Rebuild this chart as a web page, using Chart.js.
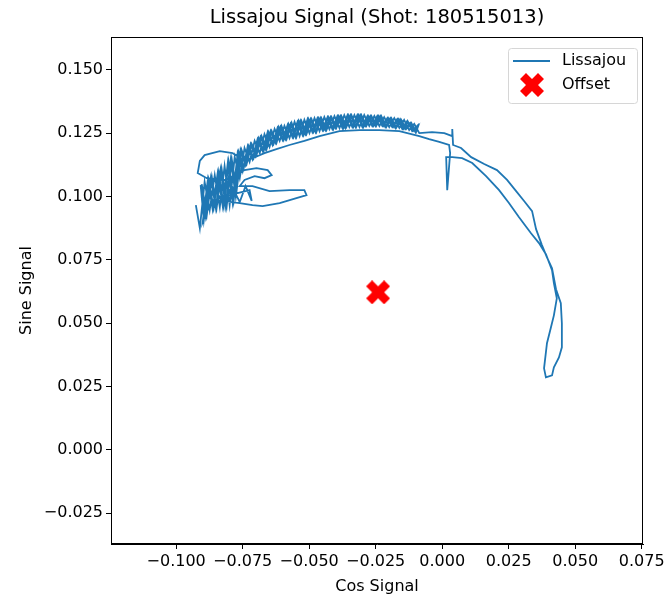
<!DOCTYPE html>
<html>
<head>
<meta charset="utf-8">
<script src="https://cdn.jsdelivr.net/npm/chart.js@4"></script>
<style>
  body { margin: 0; background: #fff; }
  #chart { display: block; }
</style>
</head>
<body>
<canvas id="chart" width="665" height="598"></canvas>
<script>
// --- Données ---
// passage 1 dans la bande épaisse (gauche -> droite)
const bandCos1 = [
  -0.0926,-0.0911,-0.0893,-0.0874,-0.0855,-0.0836,-0.0818,-0.0799,-0.0780,-0.0761,
  -0.0743,-0.0724,-0.0705,-0.0686,-0.0668,-0.0649,-0.0630,-0.0611,-0.0593,-0.0574,
  -0.0555,-0.0536,-0.0518,-0.0499,-0.0480,-0.0461,-0.0443,-0.0424,-0.0405,-0.0386,
  -0.0368,-0.0349,-0.0330,-0.0311,-0.0293,-0.0274,-0.0255,-0.0236,-0.0218,-0.0199,
  -0.0180,-0.0161,-0.0143,-0.0124,-0.0105,-0.0086
];
const bandSine1 = [
   0.0966, 0.0875, 0.1057, 0.0946, 0.1084, 0.0958, 0.1120, 0.0966, 0.1155, 0.1072,
   0.1191, 0.1136, 0.1219, 0.1171, 0.1246, 0.1195, 0.1266, 0.1219, 0.1278, 0.1230,
   0.1294, 0.1238, 0.1302, 0.1250, 0.1309, 0.1258, 0.1313, 0.1266, 0.1317, 0.1270,
   0.1321, 0.1274, 0.1321, 0.1274, 0.1321, 0.1278, 0.1317, 0.1278, 0.1313, 0.1274,
   0.1309, 0.1270, 0.1302, 0.1262, 0.1286, 0.1250
];
// arc de droite (aller puis retour), pics, ligne intérieure, boucles de gauche
const arcCos = [
  -0.0038, 0.0008, 0.0038, 0.0038, 0.0041, 0.0071, 0.0109, 0.0158, 0.0206, 0.0244,
   0.0278, 0.0308, 0.0338, 0.0353, 0.0375, 0.0394, 0.0413, 0.0428, 0.0446, 0.0450,
   0.0450, 0.0439, 0.0420, 0.0413, 0.0390, 0.0383, 0.0394, 0.0409, 0.0420, 0.0431,
   0.0420, 0.0413, 0.0390, 0.0364, 0.0334, 0.0289, 0.0251, 0.0214, 0.0165, 0.0113,
   0.0075, 0.0038, 0.0015, 0.0019, 0.0030, 0.0026,-0.0011,-0.0049,-0.0086,-0.0161,
  -0.0236,-0.0311,-0.0386,-0.0461,-0.0518,-0.0574,-0.0623,-0.0668,-0.0713,-0.0743,
  -0.0788,-0.0836,-0.0893,-0.0911,-0.0919,-0.0885,-0.0818,-0.0761,-0.0743,-0.0698,
  -0.0656,-0.0641,-0.0668,-0.0705,-0.0743,-0.0761,-0.0713,-0.0649,-0.0574,-0.0518,
  -0.0510,-0.0548,-0.0611,-0.0675,-0.0713,-0.0761,-0.0825,-0.0855,-0.0818,-0.0791,
  -0.0761,-0.0739,-0.0716,-0.0724,-0.0799,-0.0874,-0.0900
];
const arcSine = [
   0.1254, 0.1250, 0.1238, 0.1266, 0.1203, 0.1191, 0.1155, 0.1128, 0.1104, 0.1065,
   0.1021, 0.0982, 0.0942, 0.0871, 0.0808, 0.0760, 0.0717, 0.0634, 0.0579, 0.0500,
   0.0405, 0.0365, 0.0326, 0.0294, 0.0286, 0.0322, 0.0421, 0.0484, 0.0531, 0.0598,
   0.0658, 0.0709, 0.0772, 0.0816, 0.0855, 0.0918, 0.0974, 0.1025, 0.1080, 0.1132,
   0.1151, 0.1155, 0.1155, 0.1025, 0.1171, 0.1203, 0.1215, 0.1226, 0.1238, 0.1258,
   0.1262, 0.1262, 0.1258, 0.1238, 0.1219, 0.1203, 0.1187, 0.1171, 0.1151, 0.1144,
   0.1171, 0.1179, 0.1163, 0.1140, 0.1092, 0.1072, 0.1065, 0.1092, 0.1104, 0.1112,
   0.1104, 0.1084, 0.1072, 0.1080, 0.1065, 0.1041, 0.1041, 0.1021, 0.1025, 0.1025,
   0.1005, 0.0993, 0.0974, 0.0962, 0.0966, 0.0974, 0.0982, 0.1025, 0.0970, 0.1041,
   0.0978, 0.1041, 0.0982, 0.1025, 0.1005, 0.0966, 0.0899
];
// passage 2 dans la bande (gauche -> droite)
const bandCos2 = [
  -0.0881,-0.0863,-0.0844,-0.0825,-0.0806,-0.0788,-0.0769,-0.0750,-0.0731,-0.0713,
  -0.0694,-0.0675,-0.0656,-0.0638,-0.0619,-0.0600,-0.0581,-0.0563,-0.0544,-0.0525,
  -0.0506,-0.0488,-0.0469,-0.0450,-0.0431,-0.0413,-0.0394,-0.0375,-0.0356,-0.0338,
  -0.0319,-0.0300,-0.0281,-0.0263,-0.0244,-0.0225,-0.0206,-0.0188,-0.0169,-0.0150,
  -0.0131,-0.0113,-0.0094
];
const bandSine2 = [
   0.1065, 0.0950, 0.1092, 0.0962, 0.1132, 0.0978, 0.1171, 0.1100, 0.1199, 0.1147,
   0.1226, 0.1179, 0.1254, 0.1203, 0.1270, 0.1223, 0.1282, 0.1234, 0.1294, 0.1242,
   0.1305, 0.1254, 0.1309, 0.1262, 0.1313, 0.1266, 0.1317, 0.1270, 0.1321, 0.1274,
   0.1321, 0.1274, 0.1317, 0.1278, 0.1317, 0.1278, 0.1309, 0.1274, 0.1305, 0.1266,
   0.1298, 0.1258, 0.1278
];
// passage 3 (droite -> gauche)
const bandCos3 = [
  -0.0101,-0.0120,-0.0139,-0.0158,-0.0176,-0.0195,-0.0214,-0.0233,-0.0251,-0.0270,
  -0.0289,-0.0308,-0.0326,-0.0345,-0.0364,-0.0383,-0.0401,-0.0420,-0.0439,-0.0458,
  -0.0476,-0.0495,-0.0514,-0.0533,-0.0551,-0.0570,-0.0589,-0.0608,-0.0626,-0.0645,
  -0.0664,-0.0683,-0.0701,-0.0720,-0.0739,-0.0758,-0.0776,-0.0795,-0.0814,-0.0833,
  -0.0851,-0.0870,-0.0889,-0.0908
];
const bandSine3 = [
   0.1254, 0.1290, 0.1266, 0.1305, 0.1270, 0.1309, 0.1274, 0.1317, 0.1278, 0.1317,
   0.1278, 0.1321, 0.1274, 0.1321, 0.1270, 0.1317, 0.1270, 0.1313, 0.1262, 0.1309,
   0.1254, 0.1305, 0.1246, 0.1298, 0.1234, 0.1286, 0.1226, 0.1274, 0.1211, 0.1258,
   0.1187, 0.1234, 0.1159, 0.1207, 0.1124, 0.1183, 0.1001, 0.1144, 0.0962, 0.1104,
   0.0954, 0.1072, 0.0922, 0.1045
];
// passage 4 (gauche -> droite)
const bandCos4 = [
  -0.0896,-0.0878,-0.0859,-0.0840,-0.0821,-0.0803,-0.0784,-0.0765,-0.0746,-0.0728,
  -0.0709,-0.0690,-0.0671,-0.0653,-0.0634,-0.0615,-0.0596,-0.0578,-0.0559,-0.0540,
  -0.0521,-0.0503,-0.0484,-0.0465,-0.0446,-0.0428,-0.0409,-0.0390,-0.0371,-0.0353,
  -0.0334,-0.0315,-0.0296,-0.0278,-0.0259,-0.0240,-0.0221,-0.0203,-0.0184,-0.0165,
  -0.0146,-0.0128,-0.0109,-0.0090
];
const bandSine4 = [
   0.0907, 0.1065, 0.0954, 0.1096, 0.0962, 0.1136, 0.0982, 0.1175, 0.1112, 0.1199,
   0.1151, 0.1230, 0.1179, 0.1254, 0.1207, 0.1274, 0.1223, 0.1286, 0.1234, 0.1298,
   0.1242, 0.1305, 0.1254, 0.1309, 0.1262, 0.1313, 0.1266, 0.1317, 0.1270, 0.1321,
   0.1274, 0.1321, 0.1274, 0.1317, 0.1278, 0.1317, 0.1278, 0.1309, 0.1274, 0.1305,
   0.1266, 0.1294, 0.1258, 0.1278
];
// passage 5 (droite -> gauche)
const bandCos5 = [
  -0.0098,-0.0116,-0.0135,-0.0154,-0.0173,-0.0191,-0.0210,-0.0229,-0.0248,-0.0266,
  -0.0285,-0.0304,-0.0323,-0.0341,-0.0360,-0.0379,-0.0398,-0.0416,-0.0435,-0.0454,
  -0.0473,-0.0491,-0.0510,-0.0529,-0.0548,-0.0566,-0.0585,-0.0604,-0.0623,-0.0641,
  -0.0660,-0.0679,-0.0698,-0.0716,-0.0735,-0.0754,-0.0773,-0.0791,-0.0810,-0.0829,
  -0.0848,-0.0866,-0.0885,-0.0904
];
const bandSine5 = [
   0.1254, 0.1290, 0.1266, 0.1302, 0.1270, 0.1309, 0.1274, 0.1317, 0.1278, 0.1317,
   0.1278, 0.1321, 0.1274, 0.1321, 0.1274, 0.1317, 0.1270, 0.1313, 0.1262, 0.1309,
   0.1254, 0.1305, 0.1246, 0.1298, 0.1234, 0.1290, 0.1226, 0.1278, 0.1211, 0.1258,
   0.1187, 0.1238, 0.1163, 0.1207, 0.1128, 0.1183, 0.1021, 0.1147, 0.0962, 0.1108,
   0.0954, 0.1076, 0.0926, 0.1049
];
const offsetX = [-0.0241];
const offsetY = [0.0622];
const xTicks = [-0.100, -0.075, -0.050, -0.025, 0.000, 0.025, 0.050, 0.075];
const yTicks = [-0.025, 0.000, 0.025, 0.050, 0.075, 0.100, 0.125, 0.150];
const xRange = [-0.1245, 0.0755];
const yRange = [-0.0371, 0.1629];

const FONT = "'DejaVu Sans', sans-serif";
const BLUE = '#1f77b4';

// marqueur "X" plein façon matplotlib
function makeXMarker(size){
    const c = document.createElement('canvas');
    c.width = size; c.height = size;
    const g = c.getContext('2d');
    const pts = [[-1,-2],[0,-1],[1,-2],[2,-1],[1,0],[2,1],[1,2],[0,1],[-1,2],[-2,1],[-1,0],[-2,-1]];
    g.fillStyle = '#ff0000';
    g.beginPath();
    pts.forEach((p,i)=>{
        const px = size/2 + p[0]/4*size, py = size/2 + p[1]/4*size;
        if(i===0) g.moveTo(px,py); else g.lineTo(px,py);
    });
    g.closePath();
    g.fill();
    return c;
}
const xMarker = makeXMarker(24);

const fmt = v => (v < 0 ? '\u2212' : '') + Math.abs(v).toFixed(3);

// Titre, cadre, étiquettes d'axes et légende
const decorations = {
    id: 'decorations',
    afterDraw(chart){
        const ctx = chart.ctx;
        const a = chart.chartArea;
        ctx.save();
        ctx.strokeStyle = '#000';
        ctx.lineWidth = 1;
        ctx.strokeRect(Math.round(a.left)+0.5, Math.round(a.top)+0.5,
                       Math.round(a.right-a.left)-1, Math.round(a.bottom-a.top)-1);

        ctx.fillStyle = '#000';
        ctx.textAlign = 'center';
        ctx.textBaseline = 'middle';
        ctx.font = '19.5px ' + FONT;
        ctx.fillText('Lissajou Signal (Shot: 180515013)', (a.left+a.right)/2, 18);

        ctx.font = '16px ' + FONT;
        ctx.fillText('Cos Signal', (a.left+a.right)/2, 587);
        ctx.save();
        ctx.translate(27, (a.top+a.bottom)/2);
        ctx.rotate(-Math.PI/2);
        ctx.fillText('Sine Signal', 0, 0);
        ctx.restore();

        // légende
        const lx = 508, ly = 48, lw = 129, lh = 55;
        ctx.fillStyle = 'rgba(255,255,255,0.8)';
        ctx.strokeStyle = '#d6d6d6';
        ctx.beginPath();
        ctx.roundRect(lx+0.5, ly+0.5, lw, lh, 3);
        ctx.fill();
        ctx.stroke();
        ctx.strokeStyle = BLUE;
        ctx.lineWidth = 2;
        ctx.beginPath();
        ctx.moveTo(513, 61); ctx.lineTo(550, 61);
        ctx.stroke();
        ctx.drawImage(xMarker, 532-12, 85-12);
        ctx.fillStyle = '#000';
        ctx.textAlign = 'left';
        ctx.fillText('Lissajou', 562, 61);
        ctx.fillText('Offset', 562, 85);
        ctx.restore();
    }
};

const allCos = bandCos1.concat(arcCos, bandCos2, bandCos3, bandCos4, bandCos5);
const allSine = bandSine1.concat(arcSine, bandSine2, bandSine3, bandSine4, bandSine5);
const lissajou = allCos.map((x,i)=>({x, y: allSine[i]}));
const offset = offsetX.map((x,i)=>({x, y: offsetY[i]}));

const ctx = document.getElementById('chart').getContext('2d');
new Chart(ctx, {
    type: 'scatter',
    data: {
        datasets: [
            {label:'Lissajou', data: lissajou, showLine: true, borderColor: BLUE,
             borderWidth: 1.8, pointRadius: 0, tension: 0, order: 2},
            {label:'Offset', data: offset, pointStyle: xMarker, pointRadius: 12, order: 1}
        ]
    },
    options: {
        responsive: false,
        animation: false,
        devicePixelRatio: 1,
        layout: {padding: {top: 37, right: 22, left: 0, bottom: 0}},
        plugins: {legend: {display: false}, title: {display: false}, tooltip: {enabled: false}},
        scales: {
            x: {
                type: 'linear', min: xRange[0], max: xRange[1],
                afterBuildTicks: axis => { axis.ticks = xTicks.map(v => ({value: v})); },
                afterFit: axis => { axis.height = 54; axis.paddingLeft = 0; axis.paddingRight = 0; },
                grid: {drawOnChartArea: false, drawTicks: true, tickLength: 5, tickColor: '#000'},
                border: {display: true, color: '#000'},
                ticks: {font: {family: FONT, size: 16}, color: '#000', padding: 3,
                        maxRotation: 0, autoSkip: false, callback: v => fmt(v)}
            },
            y: {
                type: 'linear', min: yRange[0], max: yRange[1],
                afterBuildTicks: axis => { axis.ticks = yTicks.map(v => ({value: v})); },
                afterFit: axis => { axis.width = 111; axis.paddingTop = 0; axis.paddingBottom = 0; },
                grid: {drawOnChartArea: false, drawTicks: true, tickLength: 5, tickColor: '#000'},
                border: {display: true, color: '#000'},
                ticks: {font: {family: FONT, size: 16}, color: '#000', padding: 3,
                        autoSkip: false, callback: v => fmt(v)}
            }
        }
    },
    plugins: [decorations]
});
</script>
</body>
</html>
